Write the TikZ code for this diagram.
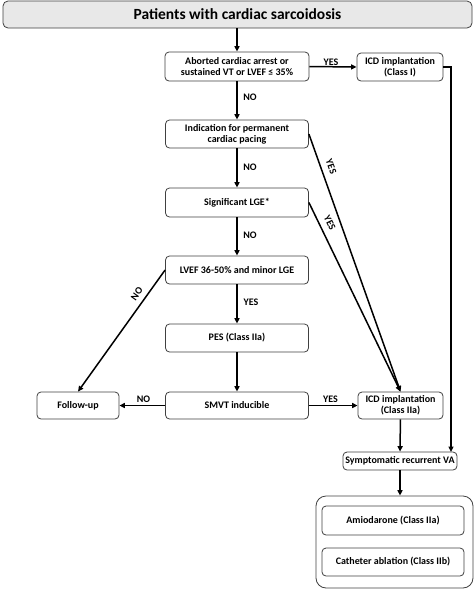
\documentclass[tikz,border=0pt]{standalone}
\usepackage{fontspec}
\setmainfont{Carlito}
\usetikzlibrary{arrows.meta,calc}
\begin{document}
\begin{tikzpicture}[x=1pt,y=-1pt,
 box/.style={draw=black!75,line width=0.8pt,rounded corners=4pt,align=center,fill=white,
   font=\bfseries\fontsize{10}{11}\selectfont,inner sep=0pt},
 title/.style={box,fill=black!9,rounded corners=5pt,font=\bfseries\fontsize{15.5}{17}\selectfont},
 big/.style={draw=black!75,line width=0.8pt,rounded corners=10pt},
 arr/.style={line width=1.5pt,-{Triangle[length=5.5pt,width=5pt]}},
 lab/.style={font=\bfseries\fontsize{10}{11}\selectfont,inner sep=1pt}]
\useasboundingbox (0,0) rectangle (474,590);
\node[title,minimum width=469pt,minimum height=27pt] (t) at (237.5,14.5) {Patients with cardiac sarcoidosis};
\node[box,minimum width=144pt,minimum height=29pt] (b1) at (237,66.5) {Aborted cardiac arrest or\\sustained VT or LVEF ≤ 35\%};
\node[box,minimum width=86pt,minimum height=28pt] (icd1) at (400,67) {ICD implantation\\(Class I)};
\node[box,minimum width=143pt,minimum height=28pt] (b2) at (237,134) {Indication for permanent\\cardiac pacing};
\node[box,minimum width=143pt,minimum height=29pt] (b3) at (237,202.5) {Significant LGE*};
\node[box,minimum width=143pt,minimum height=28pt] (b4) at (237,270) {LVEF 36-50\% and minor LGE};
\node[box,minimum width=143pt,minimum height=28pt] (b5) at (237,338) {PES (Class IIa)};
\node[box,minimum width=143pt,minimum height=27pt] (b6) at (237,405.5) {SMVT inducible};
\node[box,minimum width=82pt,minimum height=27pt] (fu) at (78,405.5) {Follow-up};
\node[box,minimum width=85pt,minimum height=27pt] (icd2) at (400.5,405.5) {ICD implantation\\(Class IIa)};
\node[box,minimum width=114pt,minimum height=18pt] (srva) at (400,461) {Symptomatic recurrent VA};
\node[big,minimum width=157pt,minimum height=92pt] (bg) at (394.5,542) {};
\node[box,minimum width=142pt,minimum height=29pt] (amio) at (393,520.5) {Amiodarone (Class IIa)};
\node[box,minimum width=142pt,minimum height=28pt] (cath) at (393,562) {Catheter ablation (Class IIb)};
\coordinate (rc) at (451,452);
% connectors
\draw[arr] (t.south -| b1.north) -- (b1.north);
\draw[arr] (b1.east) -- (icd1.west);
\node[lab] at (331,62) {YES};
\draw[arr] (b1) -- (b2);
\node[lab] at (250,97) {NO};
\draw[arr] (b2) -- (b3);
\node[lab] at (250,167) {NO};
\draw[arr] (b3) -- (b4);
\node[lab] at (250,235) {NO};
\draw[arr] (b4) -- (b5);
\node[lab] at (251,302) {YES};
\draw[arr] (b5) -- (b6);
\draw[arr] (b6) -- (fu);
\node[lab] at (143.5,399) {NO};
\draw[arr] (b6) -- (icd2);
\node[lab] at (330.5,399) {YES};
\draw[arr] (b2.east) -- node[lab,sloped,above=5pt,pos=0.14]{YES} (icd2.north);
\draw[arr] (b3.east) -- node[lab,sloped,above=5pt,pos=0.13]{YES} (icd2.north);
\draw[arr] (b4.west) -- node[lab,sloped,above=4pt,pos=0.24]{NO} (fu.north);
\draw[arr] (icd1.east) -| (rc);
\draw[arr] (icd2) -- (srva);
\draw[arr] (srva.south) -- (srva.south |- bg.north);
\end{tikzpicture}
\end{document}
